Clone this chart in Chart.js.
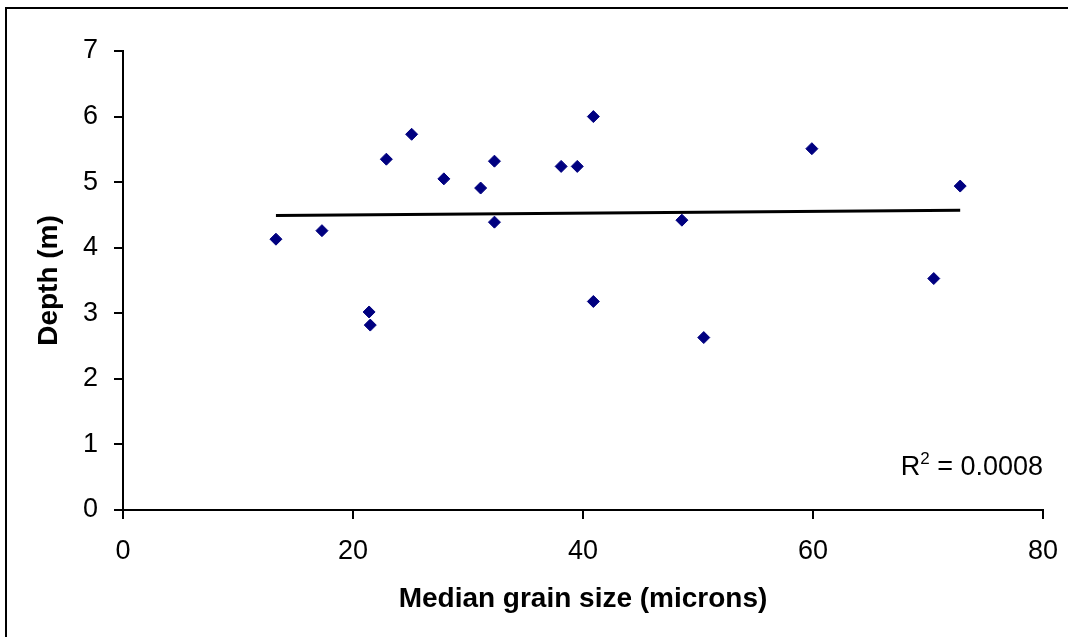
<!DOCTYPE html>
<html>
<head>
<meta charset="utf-8">
<script src="https://cdn.jsdelivr.net/npm/chart.js@4.4.1/dist/chart.umd.min.js"></script>
<style>
  html, body { margin: 0; padding: 0; background: #fff; overflow: hidden; }
  #wrap { position: relative; width: 1068px; height: 637px; overflow: hidden; }
  canvas { position: absolute; left: 0; top: 0; }
</style>
</head>
<body>
<div id="wrap">
  <canvas id="myChart1" width="1068" height="637"></canvas>
</div>
<script>
// grain size vs depth
const grainSize = [13.3, 17.3, 21.4, 21.5, 22.9, 25.1, 27.9, 31.1, 32.3, 32.3,
                   38.1, 39.5, 40.9, 40.9, 48.6, 50.5, 59.9, 70.5, 72.8]
const depth = [4.13, 4.26, 3.02, 2.82, 5.35, 5.73, 5.05, 4.91, 5.32, 4.39,
               5.24, 5.24, 6.0, 3.18, 4.42, 2.63, 5.51, 3.53, 4.94]
// linear trend line ends
const trendX = [13.3, 72.8]
const trendY = [4.49, 4.57]
const xTicks = [0, 20, 40, 60, 80]
const yTicks = [0, 1, 2, 3, 4, 5, 6, 7]
const rSquared = '0.0008'

const fontFamily = '"Liberation Sans", Arial, sans-serif'

const points = []
for (let i = 0; i <= grainSize.length-1; i++){
  points.push({x: grainSize[i], y: depth[i]})
}
const trend = []
for (let i = 0; i <= trendX.length-1; i++){
  trend.push({x: trendX[i], y: trendY[i]})
}

// outer chart frame, only left and top edges are in view
const frame = {
  id: 'frame',
  beforeDraw(chart) {
    const c = chart.ctx
    c.save()
    c.strokeStyle = '#000'
    c.lineWidth = 2
    c.beginPath()
    c.moveTo(6, chart.height)
    c.lineTo(6, 8)
    c.lineTo(chart.width, 8)
    c.stroke()
    c.restore()
  }
}

const r2Label = {
  id: 'r2Label',
  afterDraw(chart) {
    const c = chart.ctx
    const right = chart.chartArea.right
    const y = chart.scales.y.getPixelForValue(0.53)
    c.save()
    c.fillStyle = '#000'
    c.textBaseline = 'alphabetic'
    c.font = '27px ' + fontFamily
    const rest = ' = ' + rSquared
    const wRest = c.measureText(rest).width
    c.font = '17px ' + fontFamily
    const wSup = c.measureText('2').width
    c.font = '27px ' + fontFamily
    const wR = c.measureText('R').width
    const start = right - wRest - wSup - wR
    c.textAlign = 'left'
    c.fillText('R', start, y)
    c.fillText(rest, start + wR + wSup, y)
    c.font = '17px ' + fontFamily
    c.fillText('2', start + wR, y - 11)
    c.restore()
  }
}

const ctx = document.getElementById('myChart1')

new Chart(ctx, {
  type: 'scatter',
  data: {
    datasets: [{
      label: 'Depth',
      data: points,
      pointStyle: 'rectRot',
      pointRadius: 6,
      backgroundColor: '#000080',
      borderColor: '#000080',
      borderWidth: 1,
      order: 1
    }, {
      label: 'Trend',
      data: trend,
      showLine: true,
      borderColor: '#000',
      borderWidth: 3,
      pointRadius: 0,
      fill: false,
      order: 2
    }]
  },
  options: {
    responsive: false,
    animation: false,
    layout: { padding: { left: 0, top: 51, right: 3, bottom: 0 } },
    plugins: {
      legend: { display: false },
      tooltip: { enabled: false }
    },
    scales: {
      x: {
        type: 'linear',
        min: 0,
        max: 80,
        afterBuildTicks: (s) => { s.ticks = xTicks.map(v => ({value: v})) },
        afterFit: (s) => { s.height = 127; s.paddingRight = 25 },
        ticks: { color: '#000', padding: 16, font: { family: fontFamily, size: 27 } },
        grid: { drawOnChartArea: false, drawTicks: true, tickLength: 9, color: '#000', lineWidth: 2 },
        border: { display: true, color: '#000', width: 2 },
        title: {
          display: true,
          text: 'Median grain size (microns)',
          color: '#000',
          font: { family: fontFamily, size: 28, weight: 'bold' },
          padding: { top: 0, bottom: 21 }
        }
      },
      y: {
        type: 'linear',
        min: 0,
        max: 7,
        afterBuildTicks: (s) => { s.ticks = yTicks.map(v => ({value: v})) },
        afterFit: (s) => { s.width = 123 },
        ticks: { color: '#000', padding: 16, font: { family: fontFamily, size: 27 } },
        grid: { drawOnChartArea: false, drawTicks: true, tickLength: 9, color: '#000', lineWidth: 2 },
        border: { display: true, color: '#000', width: 2 },
        title: {
          display: true,
          text: 'Depth (m)',
          color: '#000',
          font: { family: fontFamily, size: 28, weight: 'bold' },
          padding: { top: 32, bottom: 0 }
        }
      }
    }
  },
  plugins: [frame, r2Label]
});
</script>
</body>
</html>
